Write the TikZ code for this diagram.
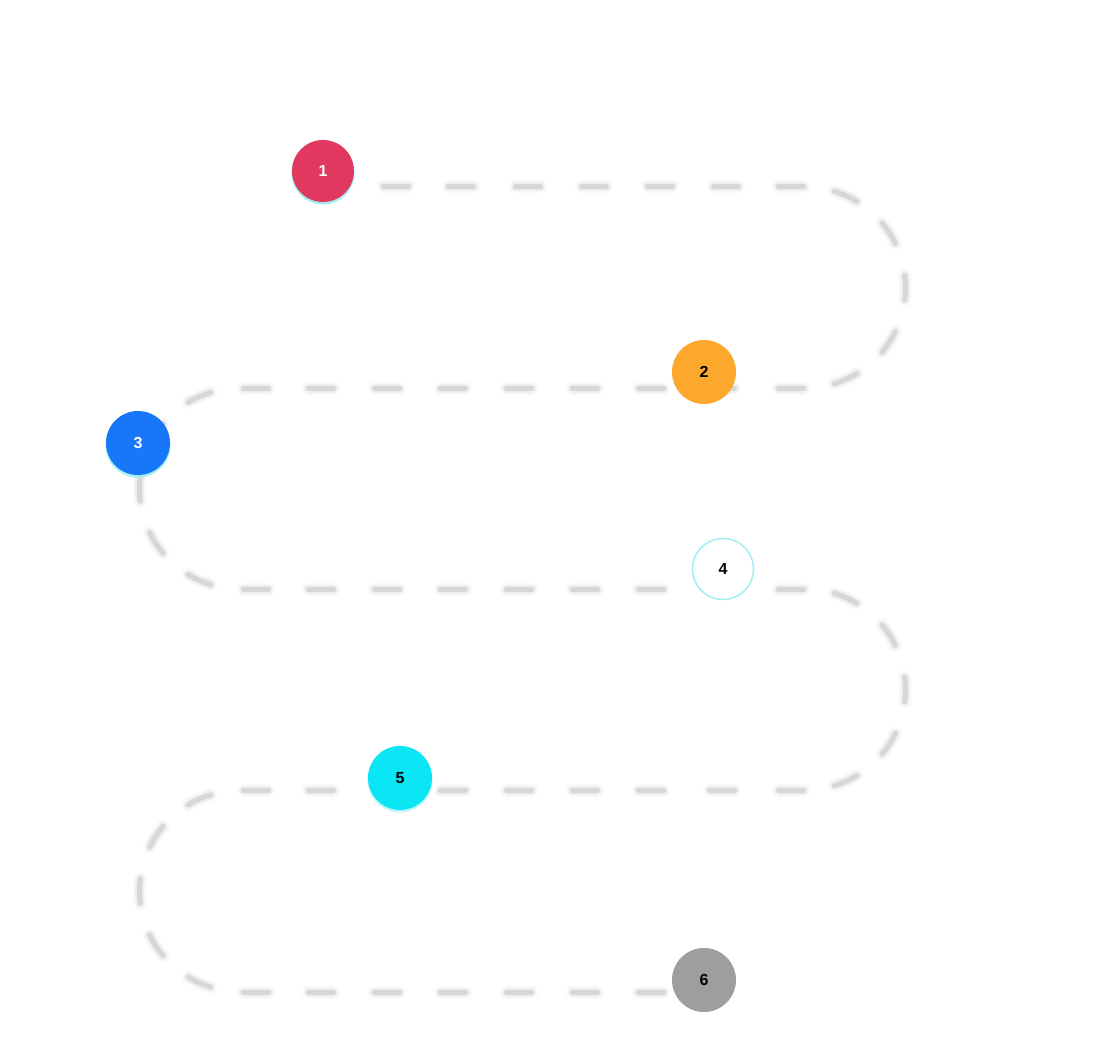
\documentclass[tikz,border=0pt]{standalone}
\usepackage{fontspec}
\setmainfont{Liberation Sans}
\definecolor{cRed}{HTML}{E0385F}
\definecolor{cOrange}{HTML}{FBA82D}
\definecolor{cBlue}{HTML}{1877F8}
\definecolor{cCyan}{HTML}{0BE6F5}
\definecolor{cGray}{HTML}{9E9E9E}
\definecolor{cGlow}{HTML}{9FEFF3}
\definecolor{cTrack}{HTML}{B8B8B8}
\tikzset{
  stepdot/.style={circle, minimum size=64pt, inner sep=0pt, font=\fontsize{16}{16}\selectfont\bfseries},
  trk/.style={cTrack, line cap=round},
}
\newcommand{\soft}[1]{%
  \draw[trk, line width=13pt, opacity=.08] #1;
  \draw[trk, line width=9pt, opacity=.18] #1;
  \draw[trk, line width=5pt, opacity=.42] #1;}
\newcommand{\hdash}[2]{\soft{(#1-12.5,-#2) -- (#1+12.5,-#2)}}
\newcommand{\adash}[3]{\soft{([shift={(#1,-#2)}]{#3-7}:100.5pt) arc[start angle={#3-7}, end angle={#3+7}, radius=100.5pt]}}
\begin{document}
\begin{tikzpicture}[x=1pt,y=1pt]
\useasboundingbox (0,0) rectangle (1116,-1064);
% track: straight rows
\foreach \x in {396,461,528,594,660,726,791} {\hdash{\x}{187}}
\foreach \x in {256,321,387,453,519,585,651,722,791} {\hdash{\x}{388}}
\foreach \x in {256,321,387,453,519,585,651,791} {\hdash{\x}{589}}
\foreach \x in {256,321,453,519,585,651,722,791} {\hdash{\x}{790}}
\foreach \x in {256,321,387,453,519,585,651} {\hdash{\x}{992}}
% track: bends
\foreach \a in {66,33,0,-33,-66} {\adash{805}{287.5}{\a}}
\foreach \a in {66,33,0,-33,-66} {\adash{805}{689.5}{\a}}
\foreach \a in {114,147,180,213,246} {\adash{240}{488.5}{\a}}
\foreach \a in {114,147,180,213,246} {\adash{240}{891}{\a}}
% glows
\fill[cGlow] (323,-173) circle[radius=31.5pt];
\fill[cGlow] (138,-445) circle[radius=32.5pt];
\fill[cGlow!60] (400,-780) circle[radius=32.5pt];
% step circles
\node[stepdot, fill=cRed, text=white, minimum size=62pt] (n1) at (323,-171) {1};
\node[stepdot, fill=cOrange, text=black] (n2) at (704,-372) {2};
\node[stepdot, fill=cBlue, text=white] (n3) at (138,-443) {3};
\node[stepdot, fill=white, draw=cGlow, line width=1.5pt, text=black, minimum size=61pt] (n4) at (723,-569) {4};
\node[stepdot, fill=cCyan, text=black] (n5) at (400,-778) {5};
\node[stepdot, fill=cGray, text=black] (n6) at (704,-980) {6};
\end{tikzpicture}
\end{document}
